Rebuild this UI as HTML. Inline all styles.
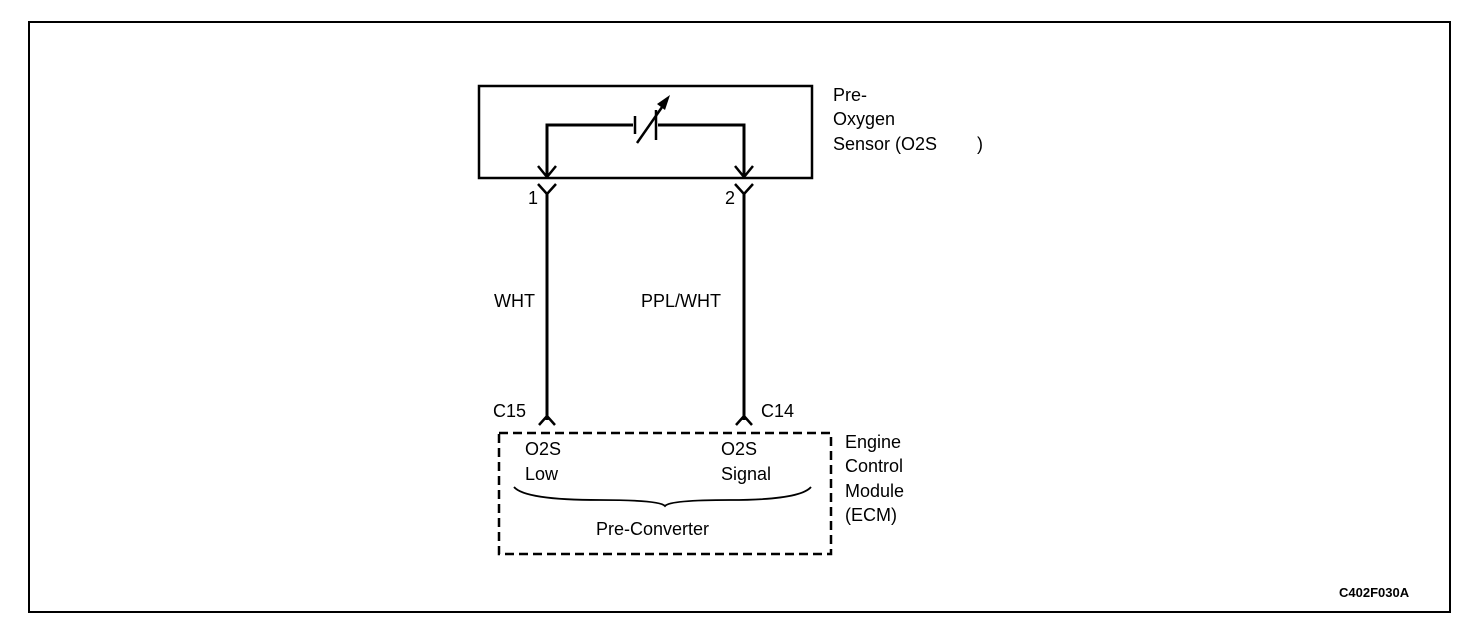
<!DOCTYPE html>
<html><head><style>
body{margin:0;background:#fff}
svg text{font-family:"Liberation Sans",Arial,sans-serif;font-size:18px;fill:#000}
</style></head><body>
<svg width="1472" height="634" viewBox="0 0 1472 634" xmlns="http://www.w3.org/2000/svg">
<rect x="29" y="22" width="1421" height="590" fill="none" stroke="#000" stroke-width="2"/>
<rect x="479" y="86" width="333" height="92" fill="none" stroke="#000" stroke-width="2.5"/>
<polyline points="547,176 547,125 633,125" fill="none" stroke="#000" stroke-width="3"/>
<polyline points="658,125 744,125 744,176" fill="none" stroke="#000" stroke-width="3"/>
<line x1="635" y1="116" x2="635" y2="134" stroke="#000" stroke-width="2.5"/>
<line x1="656" y1="110" x2="656" y2="140" stroke="#000" stroke-width="2.5"/>
<line x1="637" y1="143" x2="667" y2="100" stroke="#000" stroke-width="2.5"/>
<polygon points="670,95 657,104 665,110" fill="#000"/>
<polyline points="538,166 547,177 556,166" fill="none" stroke="#000" stroke-width="2.5"/>
<polyline points="735,166 744,177 753,166" fill="none" stroke="#000" stroke-width="2.5"/>
<polyline points="538,184 547,194 556,184" fill="none" stroke="#000" stroke-width="2.5"/>
<polyline points="735,184 744,194 753,184" fill="none" stroke="#000" stroke-width="2.5"/>
<line x1="547" y1="193" x2="547" y2="420" stroke="#000" stroke-width="3"/>
<line x1="744" y1="193" x2="744" y2="420" stroke="#000" stroke-width="3"/>
<polyline points="539,425 547,416 555,425" fill="none" stroke="#000" stroke-width="2.5"/>
<polyline points="736,425 744,416 752,425" fill="none" stroke="#000" stroke-width="2.5"/>
<rect x="499" y="433" width="332" height="121" fill="none" stroke="#000" stroke-width="2.5" stroke-dasharray="9,5"/>
<path d="M514,487 Q525,500 600,500 Q660,500 665,506 Q670,500 730,500 Q800,500 811,487" fill="none" stroke="#000" stroke-width="1.8"/>
<text x="833" y="101">Pre-</text>
<text x="833" y="125">Oxygen</text>
<text x="833" y="150">Sensor (O2S</text>
<text x="977" y="150">)</text>
<text x="528" y="204">1</text>
<text x="725" y="204">2</text>
<text x="494" y="307">WHT</text>
<text x="641" y="307">PPL/WHT</text>
<text x="493" y="417">C15</text>
<text x="761" y="417">C14</text>
<text x="525" y="455">O2S</text>
<text x="525" y="480">Low</text>
<text x="721" y="455">O2S</text>
<text x="721" y="480">Signal</text>
<text x="596" y="535">Pre-Converter</text>
<text x="845" y="448">Engine</text>
<text x="845" y="472">Control</text>
<text x="845" y="497">Module</text>
<text x="845" y="521">(ECM)</text>
<text x="1339" y="597" style="font-size:13px;font-weight:bold">C402F030A</text>
</svg>
</body></html>
